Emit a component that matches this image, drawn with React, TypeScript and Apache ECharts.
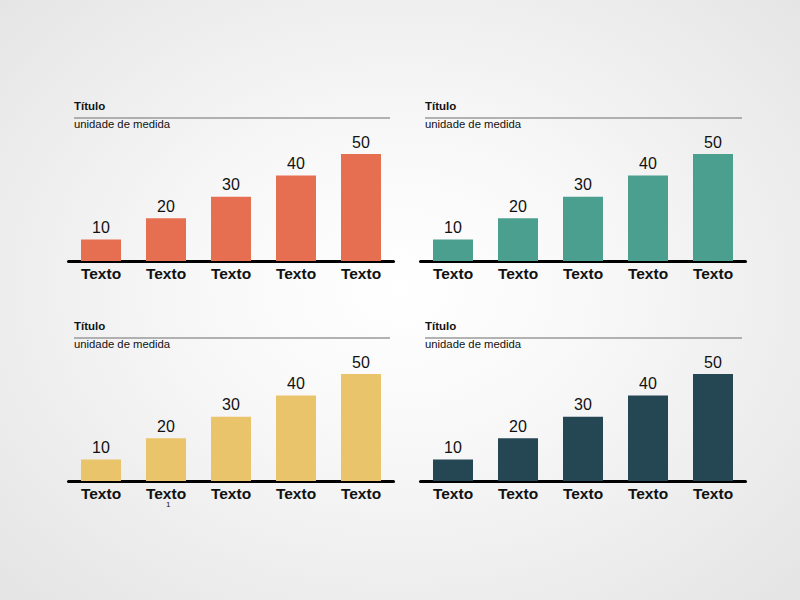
import React, { useEffect, useRef } from "react";
import * as echarts from "echarts";

const categories = ["Texto", "Texto", "Texto", "Texto", "Texto"];
const valuesOrange = [10, 20, 30, 40, 50];
const valuesTeal = [10, 20, 30, 40, 50];
const valuesYellow = [10, 20, 30, 40, 50];
const valuesDark = [10, 20, 30, 40, 50];
const panelTitle = "Título";
const panelUnit = "unidade de medida";
const colors = ["#E76F51", "#4B9F8F", "#E9C46A", "#254653"];

const FONT = "'Liberation Sans', Arial, sans-serif";

export default function App() {
  const ref = useRef<HTMLDivElement>(null);

  useEffect(() => {
    document.body.style.margin = "0";
    if (!ref.current) return;
    const chart = echarts.init(ref.current, undefined, { renderer: "svg" });

    const panels = [
      { left: 68.5, top: 154, data: valuesOrange, titleX: 74, titleY: 0, lineEnd: 390 },
      { left: 420.5, top: 154, data: valuesTeal, titleX: 425, titleY: 0, lineEnd: 742 },
      { left: 68.5, top: 374, data: valuesYellow, titleX: 74, titleY: 220, lineEnd: 390 },
      { left: 420.5, top: 374, data: valuesDark, titleX: 425, titleY: 220, lineEnd: 742 },
    ];

    const grids = panels.map((p) => ({
      left: p.left,
      top: p.top,
      width: 325,
      height: 107,
      containLabel: false,
    }));

    const xAxes = panels.map((_, i) => ({
      type: "category" as const,
      gridIndex: i,
      data: categories,
      axisLine: { show: true, lineStyle: { color: "#000", width: 3 } },
      axisTick: { show: false },
      axisLabel: {
        margin: 4,
        color: "#111",
        fontFamily: FONT,
        fontSize: 15.5,
        fontWeight: "bold" as const,
      },
    }));

    const yAxes = panels.map((_, i) => ({
      type: "value" as const,
      gridIndex: i,
      min: 0,
      max: 50,
      show: false,
      splitLine: { show: false },
    }));

    const series = panels.map((p, i) => ({
      type: "bar" as const,
      xAxisIndex: i,
      yAxisIndex: i,
      data: p.data,
      barWidth: 40,
      itemStyle: { color: colors[i] },
      label: {
        show: true,
        position: "top" as const,
        distance: 4,
        color: "#111",
        fontFamily: FONT,
        fontSize: 16,
      },
    }));

    const graphics: any[] = [];
    panels.forEach((p) => {
      graphics.push({
        type: "text",
        left: p.titleX,
        top: 100 + p.titleY,
        style: {
          text: panelTitle,
          fontFamily: FONT,
          fontSize: 11.5,
          fontWeight: "bold",
          fill: "#111",
        },
      });
      graphics.push({
        type: "line",
        shape: { x1: p.titleX, y1: 118 + p.titleY, x2: p.lineEnd, y2: 118 + p.titleY },
        style: { stroke: "#9a9a9a", lineWidth: 1.5 },
      });
      graphics.push({
        type: "text",
        left: p.titleX,
        top: 118.5 + p.titleY,
        style: {
          text: panelUnit,
          fontFamily: FONT,
          fontSize: 11.3,
          fill: "#111",
        },
      });
    });
    graphics.push({
      type: "text",
      left: 166,
      top: 500,
      style: { text: "1", fontFamily: FONT, fontSize: 8, fill: "#111" },
    });

    chart.setOption({
      animation: false,
      backgroundColor: "transparent",
      grid: grids,
      xAxis: xAxes,
      yAxis: yAxes,
      series,
      graphic: graphics,
    });

    return () => chart.dispose();
  }, []);

  return (
    <div
      style={{
        position: "absolute",
        left: 0,
        top: 0,
        width: 800,
        height: 600,
        background:
          "radial-gradient(ellipse farthest-corner at 50% 48%, #ffffff 0%, #f8f8f8 35%, #e4e4e4 100%)",
      }}
    >
      <div ref={ref} style={{ width: 800, height: 600 }} />
    </div>
  );
}
